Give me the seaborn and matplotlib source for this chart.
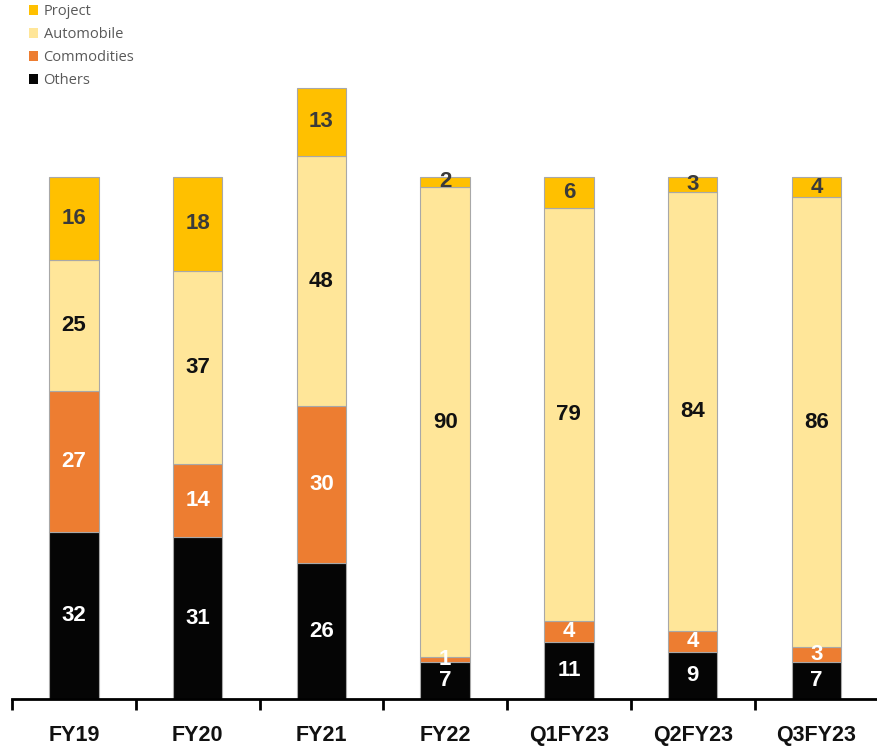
import pandas as pd
import numpy as np
import seaborn as sns
import matplotlib.pyplot as plt
from matplotlib.patches import Patch

periods = ["FY19", "FY20", "FY21", "FY22", "Q1FY23", "Q2FY23", "Q3FY23"]
others = [32, 31, 26, 7, 11, 9, 7]
commodities = [27, 14, 30, 1, 4, 4, 3]
automobile = [25, 37, 48, 90, 79, 84, 86]
project = [16, 18, 13, 2, 6, 3, 4]

segments = ["Others", "Commodities", "Automobile", "Project"]
colors = {"Others": "#050505", "Commodities": "#ED7D31",
          "Automobile": "#FFE699", "Project": "#FFC000"}
text_colors = {"Others": "white", "Commodities": "white",
               "Automobile": "#111111", "Project": "#3a3a3a"}


def main():
    df = pd.DataFrame({"period": periods, "Others": others,
                       "Commodities": commodities, "Automobile": automobile,
                       "Project": project})

    sns.set_style("white")
    plt.rcParams["font.family"] = ["Liberation Sans", "DejaVu Sans"]

    fig = plt.figure(figsize=(8.77, 7.48), dpi=100)
    ax = fig.add_axes([12 / 877, 49 / 748, 870 / 877, 699 / 748])

    bottom = np.zeros(len(periods))
    for seg in segments:
        sns.barplot(x=df["period"], y=df[seg], bottom=bottom, color=colors[seg],
                    width=0.4, saturation=1, edgecolor="#a8a8a8", linewidth=0.8,
                    ax=ax)
        for i, v in enumerate(df[seg]):
            ax.text(i, bottom[i] + v / 2, str(v), ha="center", va="center",
                    fontsize=16, fontweight="bold", color=text_colors[seg])
        bottom = bottom + df[seg].values

    ax.set_ylim(0, 133.8)
    ax.set_xlim(-0.5, len(periods) - 0.5 + 0.03)
    ax.set_ylabel("")
    ax.set_xlabel("")
    ax.set_yticks([])
    for s in ["top", "right", "left"]:
        ax.spines[s].set_visible(False)
    ax.spines["bottom"].set_linewidth(2)
    ax.spines["bottom"].set_color("black")

    ax.set_xticks(range(len(periods)))
    ax.set_xticklabels(periods, fontsize=15.5, fontweight="bold", color="#111111")
    ax.tick_params(axis="x", which="major", length=0, pad=19)
    ax.set_xticks(np.arange(-0.5, len(periods)), minor=True)
    ax.tick_params(axis="x", which="minor", length=8, width=2, direction="out",
                   color="black", bottom=True)

    handles = [Patch(facecolor=colors[s], edgecolor="none") for s in segments[::-1]]
    fig.legend(handles, segments[::-1], loc="upper left",
               bbox_to_anchor=(29 / 877, 1 - 4 / 748), frameon=False,
               labelcolor="#595959", handlelength=0.65,
               handleheight=0.65, handletextpad=0.35, labelspacing=0.55,
               borderpad=0, borderaxespad=0,
               prop={"family": ["Open Sans", "DejaVu Sans"], "size": 10.5})

    fig.savefig("out.png", dpi=100)


if __name__ == '__main__':
    main()
